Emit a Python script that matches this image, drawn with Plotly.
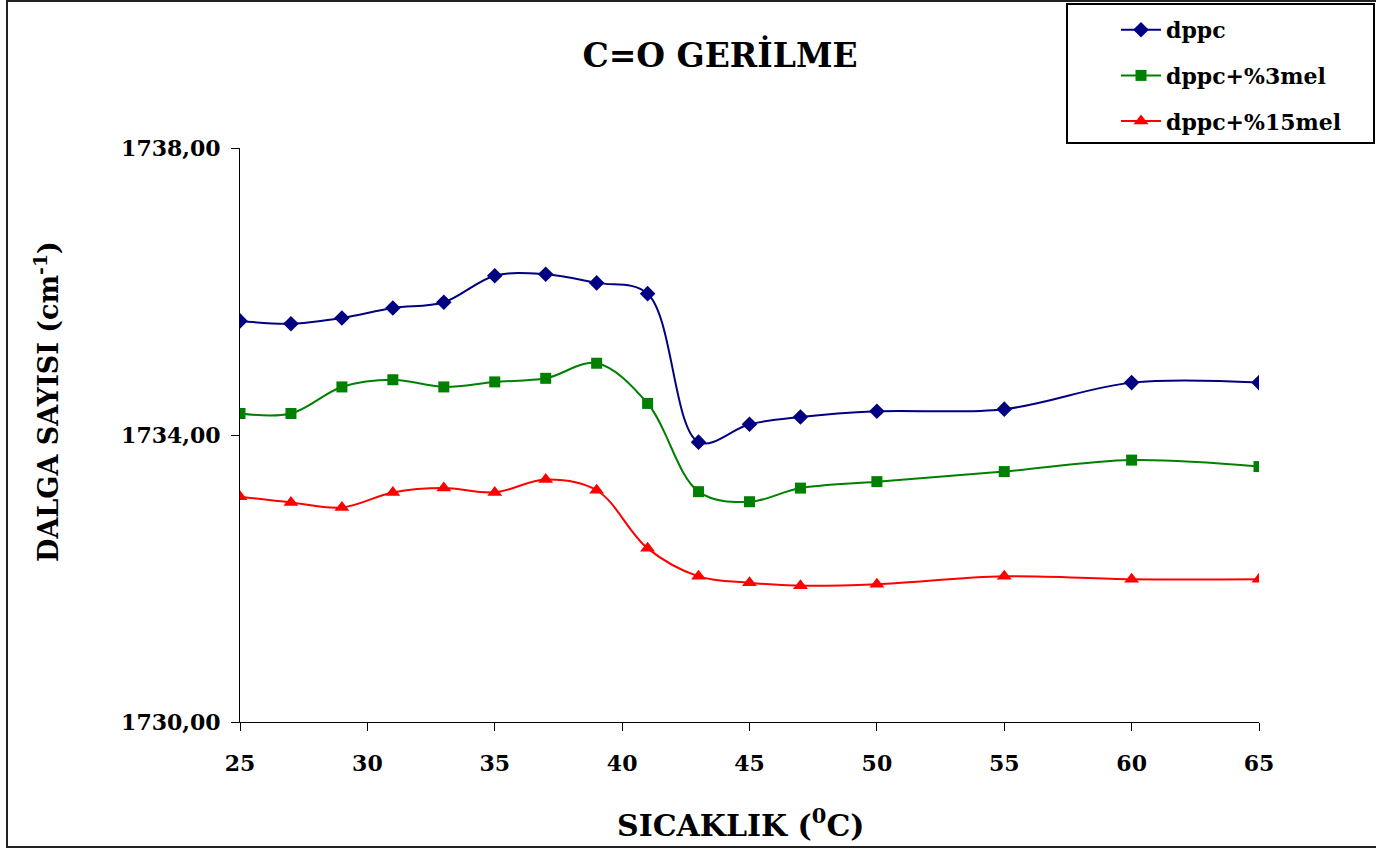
import plotly.graph_objects as go

# Temperature (°C) and C=O stretching wavenumbers (cm-1)
temperature = [25, 27, 29, 31, 33, 35, 37, 39, 41, 43, 45, 47, 50, 55, 60, 65]

dppc = [1735.59, 1735.55, 1735.63, 1735.77, 1735.85, 1736.22, 1736.24, 1736.12,
        1735.97, 1733.90, 1734.15, 1734.25, 1734.33, 1734.36, 1734.73, 1734.73]
dppc_3mel = [1734.30, 1734.30, 1734.67, 1734.77, 1734.67, 1734.74, 1734.79, 1735.00,
             1734.44, 1733.21, 1733.07, 1733.26, 1733.35, 1733.49, 1733.65, 1733.56]
dppc_15mel = [1733.14, 1733.06, 1732.99, 1733.20, 1733.26, 1733.20, 1733.38, 1733.23,
              1732.42, 1732.03, 1731.94, 1731.90, 1731.92, 1732.03, 1731.99, 1731.99]

series_names = ["dppc", "dppc+%3mel", "dppc+%15mel"]
series_values = [dppc, dppc_3mel, dppc_15mel]
series_colors = ["#000080", "#008000", "#FF0000"]
series_symbols = ["diamond", "square", "triangle-up"]
series_sizes = [12, 11, 13]

x_ticks = [25, 30, 35, 40, 45, 50, 55, 60, 65]
y_ticks = [1730, 1734, 1738]

FONT = "DejaVu Serif"

W, H = 1376, 849
L, R, T, B = 240, 117, 148, 127
pw, ph = W - L - R, H - T - B


def px(x):
    return (x - L) / pw


def py(y):
    return (H - B - y) / ph


fig = go.Figure()
for i, (name, vals, col, sym, sz) in enumerate(
        zip(series_names, series_values, series_colors, series_symbols, series_sizes)):
    fig.add_trace(go.Scatter(
        x=temperature, y=vals, name=name, mode="lines+markers",
        line=dict(color=col, width=2, shape="spline", smoothing=1.0),
        marker=dict(symbol=sym, size=sz, color=col, line=dict(width=0)),
        legendgroup=f"g{i}",
    ))

axis_common = dict(
    showgrid=False, zeroline=False, showline=True, linecolor="black", linewidth=1,
    ticks="outside", ticklen=8, tickwidth=1, tickcolor="black",
)

fig.update_xaxes(range=[25, 65], tickvals=x_ticks, ticklabelstandoff=14,
                 tickfont=dict(family=FONT, size=22, color="black", weight="bold"),
                 **axis_common)
fig.update_yaxes(range=[1730, 1738], tickvals=y_ticks, tickformat=".2f",
                 ticklabelstandoff=6,
                 tickfont=dict(family=FONT, size=22, color="black", weight="bold"),
                 **axis_common)

fig.update_layout(
    width=W, height=H,
    margin=dict(l=L, r=R, t=T, b=B, autoexpand=False),
    paper_bgcolor="white", plot_bgcolor="white",
    separators=",.",
    showlegend=True,
    legend=dict(
        x=px(1116), y=py(9), xanchor="left", yanchor="top",
        bgcolor="rgba(0,0,0,0)", borderwidth=0,
        font=dict(family=FONT, size=22, color="black", weight="bold"),
        traceorder="grouped", tracegroupgap=14, itemwidth=40,
    ),
    title=dict(
        text="<b>C=O GERİLME</b>", x=720 / W, y=1 - 55 / H,
        xanchor="center", yanchor="middle",
        font=dict(family=FONT, size=33, color="black"),
    ),
    annotations=[
        dict(text="<b>SICAKLIK (<sup>0</sup>C)</b>", xref="paper", yref="paper",
             x=px(740), y=py(823), xanchor="center", yanchor="middle",
             showarrow=False, font=dict(family=FONT, size=30, color="black")),
        dict(text="<b>DALGA SAYISI (cm<sup>-1</sup>)</b>", xref="paper", yref="paper",
             x=px(46), y=py(402), xanchor="center", yanchor="middle", textangle=-90,
             showarrow=False, font=dict(family=FONT, size=27, color="black")),
    ],
    shapes=[
        # outer chart frame
        dict(type="rect", xref="paper", yref="paper",
             x0=px(7), x1=px(1385), y0=py(847), y1=py(1),
             line=dict(color="#222222", width=2), fillcolor="rgba(0,0,0,0)", layer="below"),
        # legend frame
        dict(type="rect", xref="paper", yref="paper",
             x0=px(1067), x1=px(1374), y0=py(143), y1=py(4),
             line=dict(color="black", width=2), fillcolor="white", layer="below"),
    ],
)

fig.write_html("out.html")
